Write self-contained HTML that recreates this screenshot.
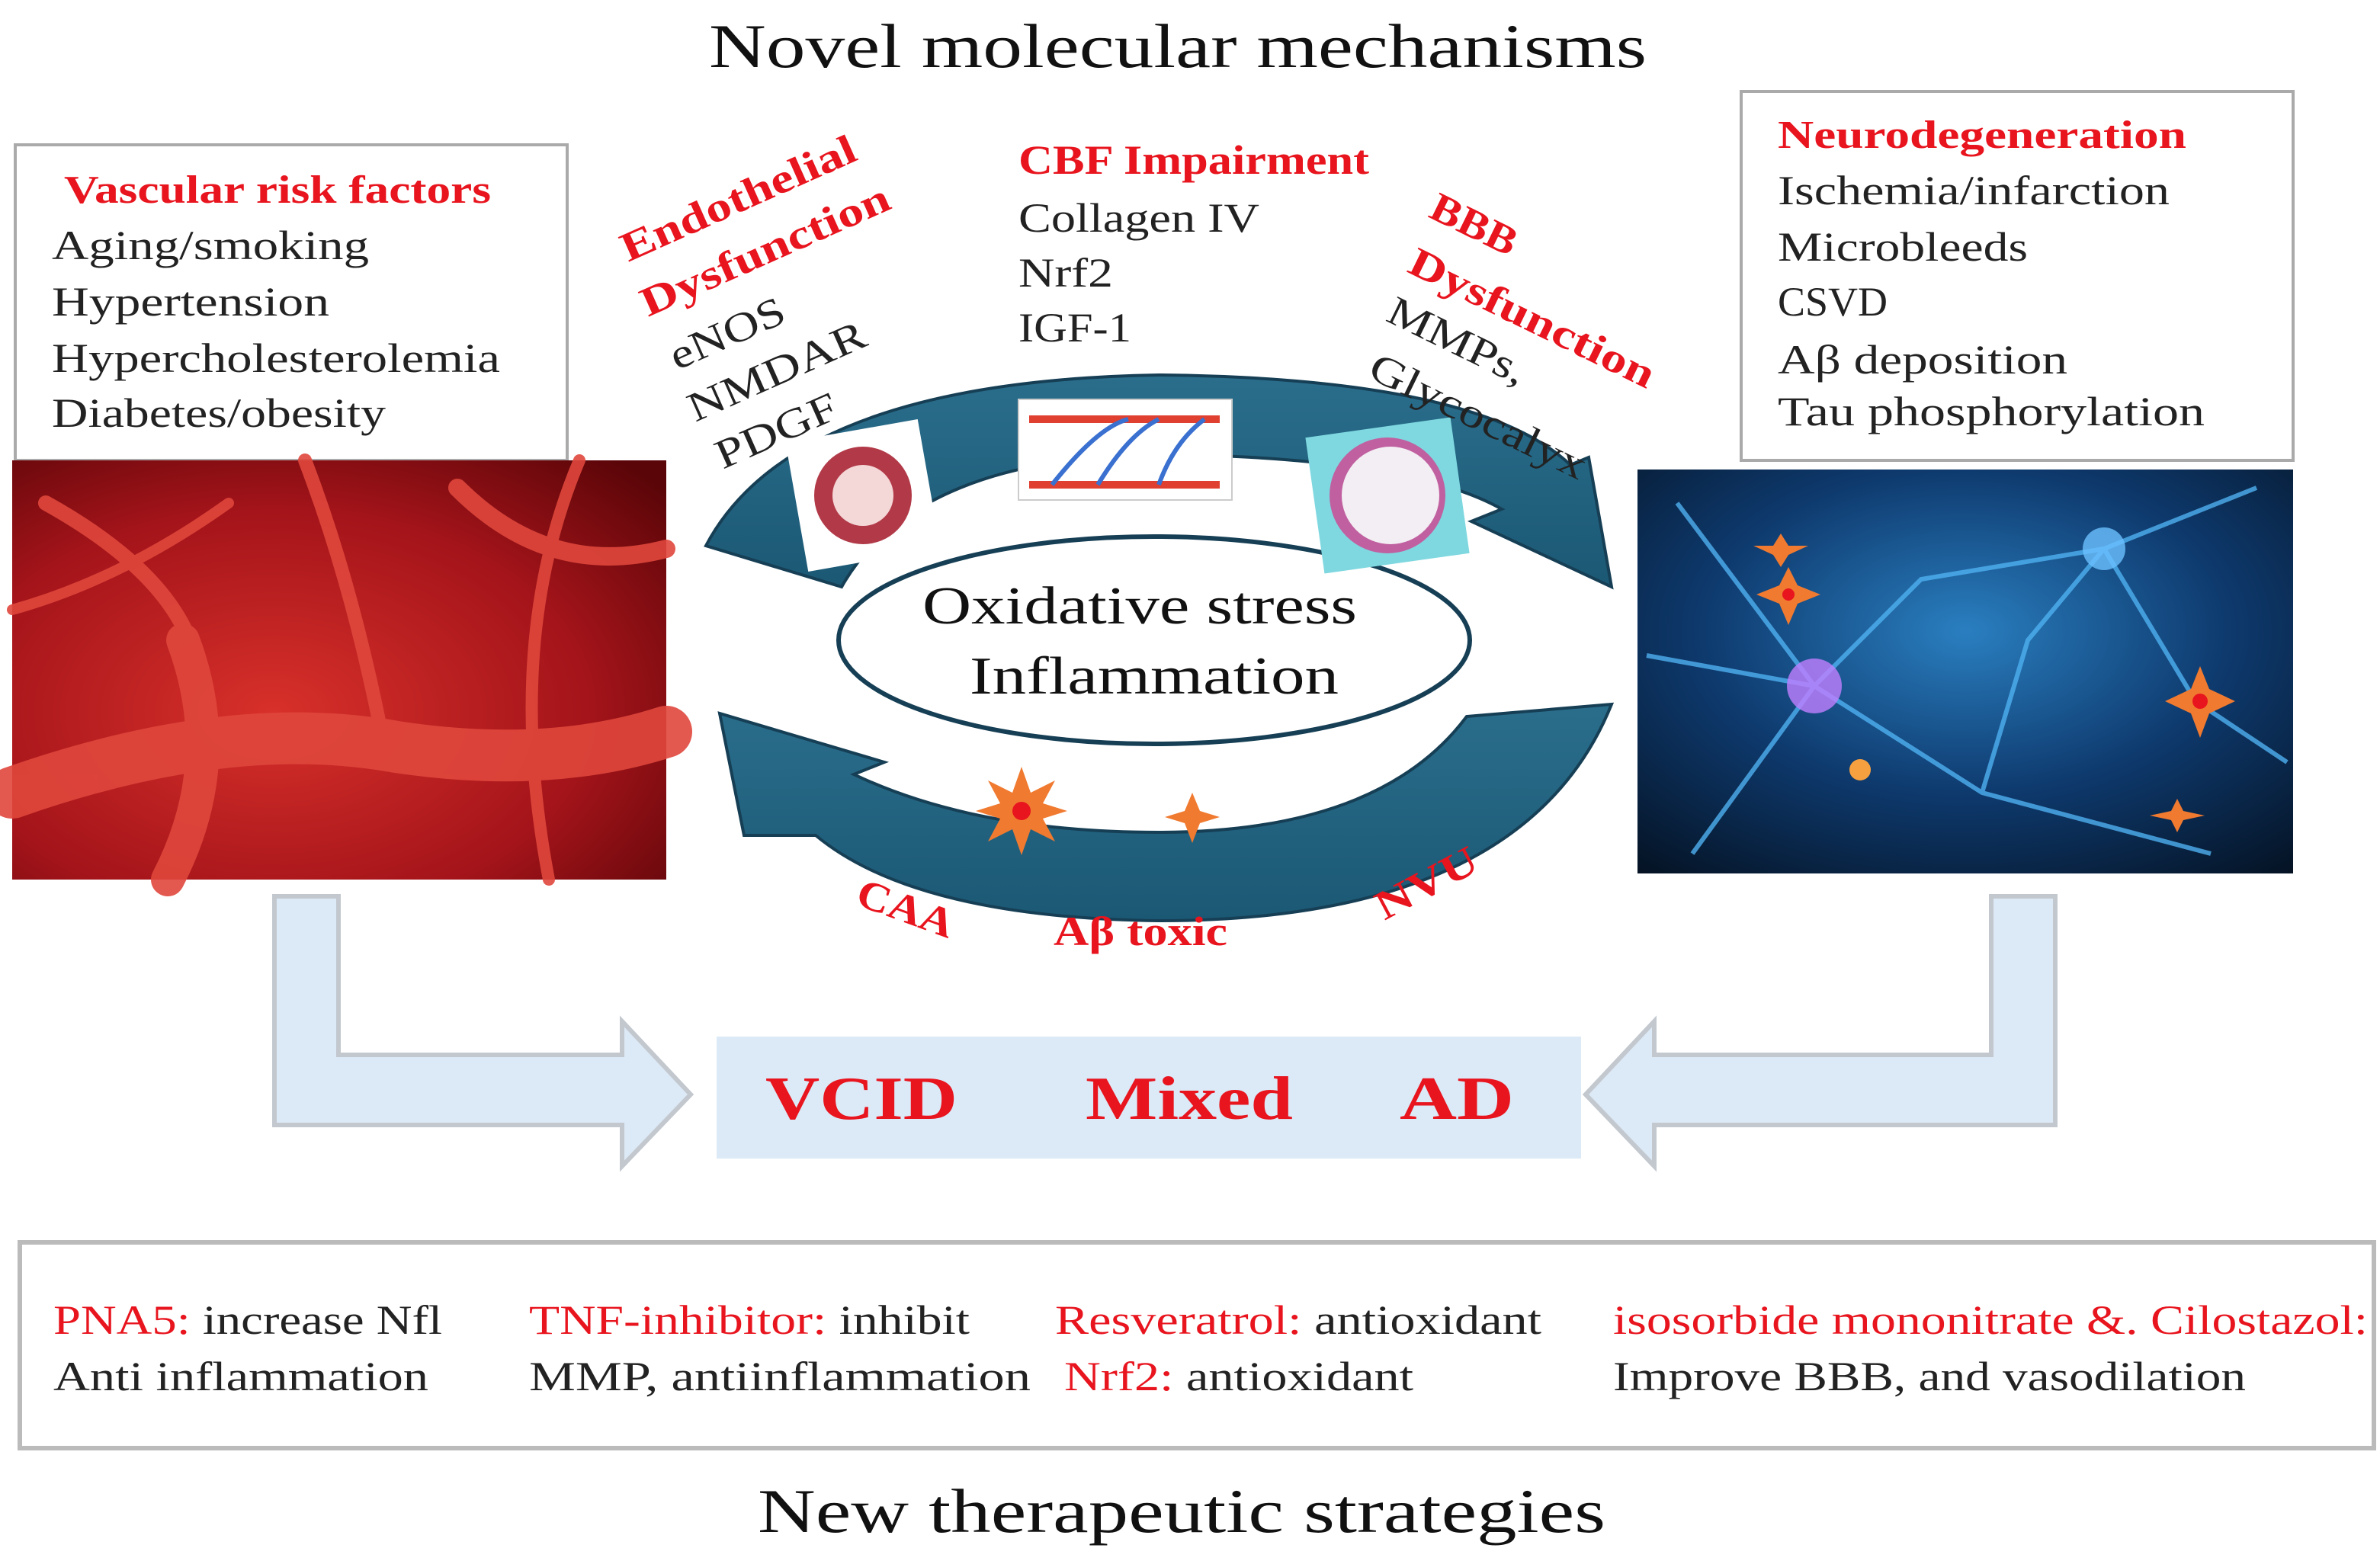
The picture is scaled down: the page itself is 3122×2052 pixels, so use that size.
<!DOCTYPE html>
<html><head><meta charset="utf-8"><style>
html,body{margin:0;padding:0;background:#fff;}
svg{display:block;}
text{font-family:"Liberation Serif",serif;}
</style></head><body>
<svg width="3122" height="2052" viewBox="0 0 1561 1026" xmlns="http://www.w3.org/2000/svg">
<defs>
<radialGradient id="red" cx="0.4" cy="0.6" r="0.8">
<stop offset="0" stop-color="#d8302a"/><stop offset="0.6" stop-color="#a4141a"/><stop offset="1" stop-color="#5a0508"/>
</radialGradient>
<radialGradient id="blue" cx="0.5" cy="0.4" r="0.8">
<stop offset="0" stop-color="#2a7fc0"/><stop offset="0.5" stop-color="#0e3a6e"/><stop offset="1" stop-color="#04101f"/>
</radialGradient>
<linearGradient id="teal" x1="0" y1="0" x2="0" y2="1">
<stop offset="0" stop-color="#2a6e8c"/><stop offset="1" stop-color="#1b5874"/>
</linearGradient>
</defs>

<text x="465" y="44" font-size="41" textLength="615" lengthAdjust="spacingAndGlyphs" fill="#111">Novel molecular mechanisms</text>

<rect x="10" y="95" width="362" height="207" fill="#fff" stroke="#aaa" stroke-width="2"/>
<text x="42" y="133" font-size="26" font-weight="bold" fill="#e8141e" textLength="280" lengthAdjust="spacingAndGlyphs">Vascular risk factors</text>
<g font-size="27" fill="#222">
<text x="34" y="170" textLength="208" lengthAdjust="spacingAndGlyphs">Aging/smoking</text>
<text x="34" y="207" textLength="182" lengthAdjust="spacingAndGlyphs">Hypertension</text>
<text x="34" y="244" textLength="294" lengthAdjust="spacingAndGlyphs">Hypercholesterolemia</text>
<text x="34" y="280" textLength="219" lengthAdjust="spacingAndGlyphs">Diabetes/obesity</text>
</g>
<rect x="8" y="302" width="429" height="275" fill="url(#red)"/>
<g fill="none" stroke="#e0473c" stroke-linecap="round" opacity="0.9">
<path d="M8 520 Q150 470 260 490 Q360 505 437 480" stroke-width="34"/>
<path d="M120 420 Q150 500 110 577" stroke-width="22"/>
<path d="M30 330 Q120 380 130 440" stroke-width="10"/>
<path d="M200 302 Q230 380 250 480" stroke-width="9"/>
<path d="M300 320 Q360 380 437 360" stroke-width="12"/>
<path d="M8 400 Q80 380 150 330" stroke-width="7"/>
<path d="M380 302 Q330 420 360 577" stroke-width="8"/>
</g>

<rect x="1142" y="60" width="362" height="242" fill="#fff" stroke="#aaa" stroke-width="2"/>
<text x="1166" y="97" font-size="26" font-weight="bold" fill="#e8141e" textLength="268" lengthAdjust="spacingAndGlyphs">Neurodegeneration</text>
<g font-size="27" fill="#222">
<text x="1166" y="134" textLength="257" lengthAdjust="spacingAndGlyphs">Ischemia/infarction</text>
<text x="1166" y="171" textLength="164" lengthAdjust="spacingAndGlyphs">Microbleeds</text>
<text x="1166" y="207">CSVD</text>
<text x="1166" y="245" textLength="190" lengthAdjust="spacingAndGlyphs">Aβ deposition</text>
<text x="1166" y="279" textLength="280" lengthAdjust="spacingAndGlyphs">Tau phosphorylation</text>
</g>
<rect x="1074" y="308" width="430" height="265" fill="url(#blue)"/>
<g fill="none" stroke="#4fb0f0" stroke-width="3" opacity="0.8">
<path d="M1190 450 L1100 330 M1190 450 L1260 380 L1380 360 M1190 450 L1110 560 M1190 450 L1300 520 L1450 560 M1380 360 L1480 320 M1380 360 L1440 460 L1500 500 M1300 520 L1330 420 L1380 360 M1190 450 L1080 430"/>
</g>
<circle cx="1190" cy="450" r="18" fill="#c080ff" opacity="0.8"/>
<circle cx="1380" cy="360" r="14" fill="#6cc0ff" opacity="0.8"/>
<circle cx="1220" cy="505" r="7" fill="#f6a040"/>

<path d="M463 358 Q520 250 760 246 Q970 248 1030 305 L1042 300 L1057 385 L965 342 L985 334 Q925 300 760 298 Q600 300 552 385 Z" fill="url(#teal)" stroke="#163f55" stroke-width="2"/>
<path d="M1057 462 Q1000 604 760 604 Q600 602 535 548 L488 548 L472 468 L580 500 L560 508 Q640 546 760 546 Q905 546 962 470 Z" fill="url(#teal)" stroke="#163f55" stroke-width="2"/>
<ellipse cx="757" cy="420" rx="207" ry="68" fill="#fff" stroke="#163f55" stroke-width="3"/>
<text x="605" y="409" font-size="35" fill="#111" textLength="285" lengthAdjust="spacingAndGlyphs">Oxidative stress</text>
<text x="636" y="455" font-size="35" fill="#111" textLength="242" lengthAdjust="spacingAndGlyphs">Inflammation</text>

<rect x="522" y="282" width="88" height="86" fill="#fff" transform="rotate(-10 566 325)"/>
<circle cx="566" cy="325" r="32" fill="#b23a48"/><circle cx="566" cy="325" r="20" fill="#f4d8d8"/>
<rect x="668" y="262" width="140" height="66" fill="#fff" stroke="#ccc"/>
<path d="M675 275 H800 M675 318 H800" stroke="#e04030" stroke-width="5"/>
<path d="M690 318 Q720 280 740 275 M720 318 Q740 285 760 275 M760 318 Q770 290 790 275" stroke="#3a70d0" stroke-width="3" fill="none"/>
<rect x="862" y="280" width="96" height="90" fill="#7fd8e0" transform="rotate(-8 910 325)"/>
<circle cx="910" cy="325" r="38" fill="#c060a0"/><circle cx="912" cy="325" r="32" fill="#f3eef3"/>

<g font-weight="bold" fill="#e8141e" font-size="27">
<text transform="translate(412 172) rotate(-24)" textLength="166" lengthAdjust="spacingAndGlyphs">Endothelial</text>
<text transform="translate(425 208) rotate(-24)" textLength="176" lengthAdjust="spacingAndGlyphs">Dysfunction</text>
<text transform="translate(936 142) rotate(26)" textLength="60" lengthAdjust="spacingAndGlyphs">BBB</text>
<text transform="translate(922 178) rotate(26)" textLength="176" lengthAdjust="spacingAndGlyphs">Dysfunction</text>
<text transform="translate(560 593) rotate(20)" textLength="66" lengthAdjust="spacingAndGlyphs">CAA</text>
<text x="691" y="620" textLength="114" lengthAdjust="spacingAndGlyphs">Aβ toxic</text>
<text transform="translate(908 604) rotate(-28)" textLength="72" lengthAdjust="spacingAndGlyphs">NVU</text>
<text x="668" y="114" textLength="230" lengthAdjust="spacingAndGlyphs">CBF Impairment</text>
</g>
<g fill="#222" font-size="27">
<text transform="translate(444 243) rotate(-24)" textLength="80" lengthAdjust="spacingAndGlyphs">eNOS</text>
<text transform="translate(456 277) rotate(-24)" textLength="125" lengthAdjust="spacingAndGlyphs">NMDAR</text>
<text transform="translate(474 308) rotate(-24)" textLength="85" lengthAdjust="spacingAndGlyphs">PDGF</text>
<text transform="translate(908 210) rotate(26)" textLength="98" lengthAdjust="spacingAndGlyphs">MMPs,</text>
<text transform="translate(896 247) rotate(26)" textLength="155" lengthAdjust="spacingAndGlyphs">Glycocalyx</text>
<text x="668" y="152" textLength="158" lengthAdjust="spacingAndGlyphs">Collagen IV</text>
<text x="668" y="188" textLength="62" lengthAdjust="spacingAndGlyphs">Nrf2</text>
<text x="668" y="224" textLength="74" lengthAdjust="spacingAndGlyphs">IGF-1</text>
</g>

<g fill="#f07a30">
<polygon points="670,503 676,520 692,512 684,527 700,532 684,537 692,552 676,544 670,561 664,544 648,552 656,537 640,532 656,527 648,512 664,520"/>
<polygon points="782,520 787,532 800,536 787,540 782,553 777,540 764,536 777,532"/>
<polygon points="1173,372 1179,384 1194,390 1179,396 1173,410 1167,396 1152,390 1167,384"/>
<polygon points="1168,350 1173,358 1186,358 1173,364 1168,372 1163,364 1150,358 1163,358"/>
<polygon points="1443,437 1449,452 1466,460 1449,468 1443,484 1437,468 1420,460 1437,452"/>
<polygon points="1428,524 1432,532 1446,535 1432,538 1428,546 1424,538 1410,535 1424,532"/>
</g>
<g fill="#e8141e"><circle cx="670" cy="532" r="6"/><circle cx="1443" cy="460" r="5"/><circle cx="1173" cy="390" r="4"/></g>

<path d="M180 588 H222 V692 H408 V670 L453 718 L408 765 V738 H180 Z" fill="#dce9f6" stroke="#c3c8cf" stroke-width="3"/>
<path d="M1348 588 H1306 V692 H1085 V670 L1040 718 L1085 765 V738 H1348 Z" fill="#dce9f6" stroke="#c3c8cf" stroke-width="3"/>
<rect x="470" y="680" width="567" height="80" fill="#dce9f6"/>
<g font-size="40" font-weight="bold" fill="#e8141e">
<text x="502" y="734" textLength="126" lengthAdjust="spacingAndGlyphs">VCID</text>
<text x="712" y="734" textLength="136" lengthAdjust="spacingAndGlyphs">Mixed</text>
<text x="918" y="734" textLength="75" lengthAdjust="spacingAndGlyphs">AD</text>
</g>

<rect x="13" y="815" width="1544" height="135" fill="#fff" stroke="#bbb" stroke-width="3"/>
<g font-size="27" fill="#222">
<text x="35" y="875" textLength="255" lengthAdjust="spacingAndGlyphs"><tspan fill="#e8141e">PNA5:</tspan> increase Nfl</text>
<text x="35" y="912" textLength="246" lengthAdjust="spacingAndGlyphs">Anti inflammation</text>
<text x="347" y="875" textLength="289" lengthAdjust="spacingAndGlyphs"><tspan fill="#e8141e">TNF-inhibitor:</tspan> inhibit</text>
<text x="347" y="912" textLength="329" lengthAdjust="spacingAndGlyphs">MMP,  antiinflammation</text>
<text x="692" y="875" textLength="319" lengthAdjust="spacingAndGlyphs"><tspan fill="#e8141e">Resveratrol:</tspan> antioxidant</text>
<text x="698" y="912" textLength="229" lengthAdjust="spacingAndGlyphs"><tspan fill="#e8141e">Nrf2:</tspan> antioxidant</text>
<text x="1058" y="875" fill="#e8141e" textLength="495" lengthAdjust="spacingAndGlyphs">isosorbide mononitrate &amp;. Cilostazol:</text>
<text x="1058" y="912" textLength="415" lengthAdjust="spacingAndGlyphs">Improve BBB, and vasodilation</text>
</g>
<text x="497" y="1005" font-size="41" fill="#111" textLength="556" lengthAdjust="spacingAndGlyphs">New therapeutic strategies</text>
</svg>
</body></html>
